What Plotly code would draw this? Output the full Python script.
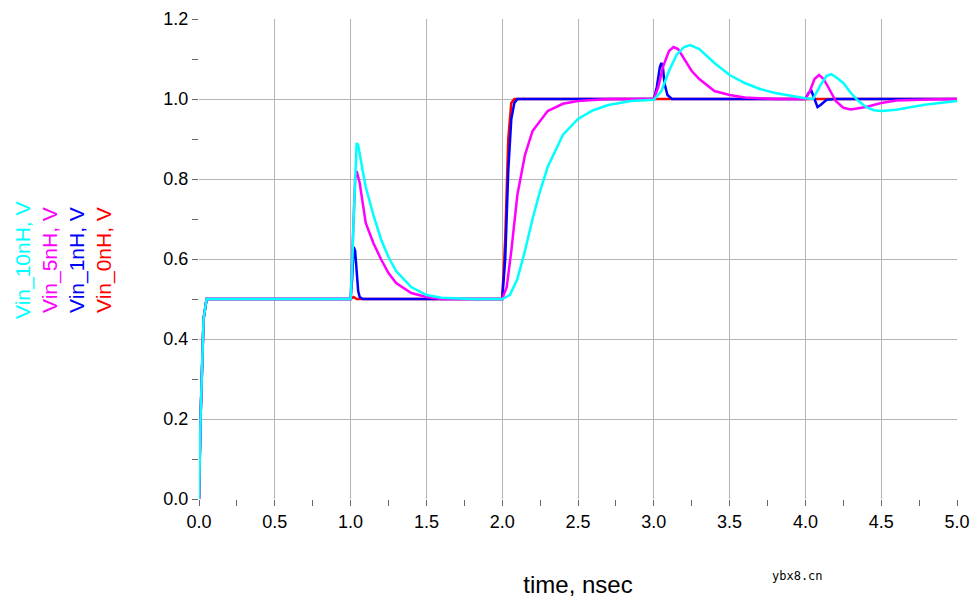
import plotly.graph_objects as go

t0 = [0, 0.01, 0.03, 0.05, 1.0, 1.02, 1.04, 2.0, 2.02, 2.04, 2.06, 2.08, 5.0]
v0 = [0, 0.2, 0.45, 0.5, 0.5, 0.505, 0.5, 0.5, 0.65, 0.9, 0.99, 1.0, 1.0]

t1 = [0, 0.01, 0.03, 0.05, 1.0, 1.01, 1.02, 1.03, 1.04, 1.05, 1.06, 1.08, 2.0, 2.02, 2.04, 2.06, 2.08, 2.1, 3.0, 3.02, 3.04, 3.05, 3.06, 3.07, 3.09, 3.12, 4.0, 4.02, 4.04, 4.06, 4.08, 4.1, 4.14, 4.2, 5.0]
v1 = [0, 0.2, 0.45, 0.5, 0.5, 0.55, 0.63, 0.62, 0.57, 0.52, 0.505, 0.5, 0.5, 0.6, 0.82, 0.95, 0.99, 1.0, 1.0, 1.03, 1.08, 1.09, 1.08, 1.04, 1.01, 1.0, 1.0, 1.015, 1.02, 1.0, 0.98, 0.985, 0.998, 1.0, 1.0]

t5 = [0, 0.01, 0.03, 0.05, 1.0, 1.01, 1.02, 1.03, 1.04, 1.06, 1.08, 1.1, 1.15, 1.2, 1.25, 1.3, 1.4, 1.5, 1.6, 2.0, 2.03, 2.06, 2.1, 2.15, 2.2, 2.3, 2.4, 2.5, 2.7, 3.0, 3.03, 3.06, 3.1, 3.13, 3.16, 3.2, 3.25, 3.3, 3.4, 3.5, 3.6, 3.8, 4.0, 4.03, 4.06, 4.09, 4.12, 4.15, 4.2, 4.25, 4.3, 4.4, 4.5, 4.6, 4.8, 5.0]
v5 = [0, 0.2, 0.45, 0.5, 0.5, 0.6, 0.72, 0.8, 0.82, 0.79, 0.74, 0.69, 0.64, 0.6, 0.565, 0.54, 0.515, 0.505, 0.5, 0.5, 0.53, 0.62, 0.76, 0.86, 0.92, 0.97, 0.988, 0.995, 1.0, 1.0, 1.03, 1.08, 1.12, 1.13, 1.125, 1.1, 1.07, 1.05, 1.02, 1.01, 1.004, 1.0, 1.0, 1.02, 1.05, 1.06, 1.05, 1.03, 0.995, 0.978, 0.974, 0.98, 0.99, 0.996, 0.999, 1.0]

t10 = [0, 0.01, 0.03, 0.05, 1.0, 1.01, 1.02, 1.03, 1.04, 1.05, 1.06, 1.08, 1.1, 1.15, 1.2, 1.25, 1.3, 1.4, 1.5, 1.6, 1.8, 2.0, 2.05, 2.1, 2.15, 2.2, 2.25, 2.3, 2.4, 2.5, 2.6, 2.7, 2.85, 3.0, 3.05, 3.1, 3.15, 3.2, 3.24, 3.3, 3.4, 3.5, 3.6, 3.7, 3.8, 3.9, 4.0, 4.05, 4.1, 4.14, 4.17, 4.2, 4.25, 4.3, 4.35, 4.4, 4.45, 4.5, 4.6, 4.7, 4.8, 5.0]
v10 = [0, 0.2, 0.45, 0.5, 0.5, 0.58, 0.7, 0.82, 0.89, 0.885, 0.86, 0.82, 0.78, 0.71, 0.65, 0.605, 0.57, 0.53, 0.51, 0.503, 0.5, 0.5, 0.51, 0.55, 0.62, 0.7, 0.77, 0.83, 0.91, 0.95, 0.972, 0.985, 0.995, 0.998, 1.02, 1.07, 1.11, 1.13, 1.135, 1.125, 1.09, 1.06, 1.04, 1.025, 1.015, 1.008, 1.002, 1.0, 1.035, 1.058, 1.062, 1.055, 1.04, 1.015, 0.995, 0.98, 0.972, 0.97, 0.973, 0.98, 0.986, 0.995]

names = ["Vin_0nH, V", "Vin_1nH, V", "Vin_5nH, V", "Vin_10nH, V"]
colors = ["#ff0000", "#0000ff", "#ff00ff", "#00ffff"]
series = [(t0, v0), (t1, v1), (t5, v5), (t10, v10)]

fig = go.Figure()
for (t, v), n, c in zip(series, names, colors):
    fig.add_trace(go.Scatter(x=t, y=v, name=n, mode="lines", line=dict(color=c, width=2.5)))

font = dict(family="Liberation Sans, Arial", size=18, color="black")
axis_common = dict(showgrid=True, gridcolor="#b4b4b4", gridwidth=1, showline=False, zeroline=False,
                   ticks="outside", ticklen=6, tickcolor="#666", tickfont=font, automargin=False)
fig.update_xaxes(range=[0, 5], dtick=0.5, tickformat=".1f",
                 title=dict(text="time, nsec", font=dict(family="Liberation Sans, Arial", size=24, color="black"), standoff=45),
                 minor=dict(dtick=0.25, ticks="outside", ticklen=6, tickcolor="#666", showgrid=False), **axis_common)
fig.update_yaxes(range=[0, 1.2], dtick=0.2, tickformat=".1f",
                 minor=dict(dtick=0.1, ticks="outside", ticklen=6, tickcolor="#666", showgrid=False), **axis_common)

ann_x = [104, 77, 50, 23]
for n, c, xp in zip(names, colors, ann_x):
    fig.add_annotation(text=n, textangle=-90, xref="paper", yref="paper",
                       x=(xp - 199) / 758, y=(499 - 260) / 480, showarrow=False,
                       font=dict(family="Liberation Sans, Arial", size=21, color=c), xanchor="center", yanchor="middle")
fig.add_annotation(text="ybx8.cn", xref="paper", yref="paper", x=(825 - 199) / 758, y=(499 - 585) / 480,
                   showarrow=False, font=dict(family="DejaVu Sans Mono", size=12, color="black"))

fig.update_layout(width=979, height=607, margin=dict(l=191, r=30, t=11, b=116, autoexpand=False),
                  plot_bgcolor="white", paper_bgcolor="white", showlegend=False)
fig.write_html("out.html")
